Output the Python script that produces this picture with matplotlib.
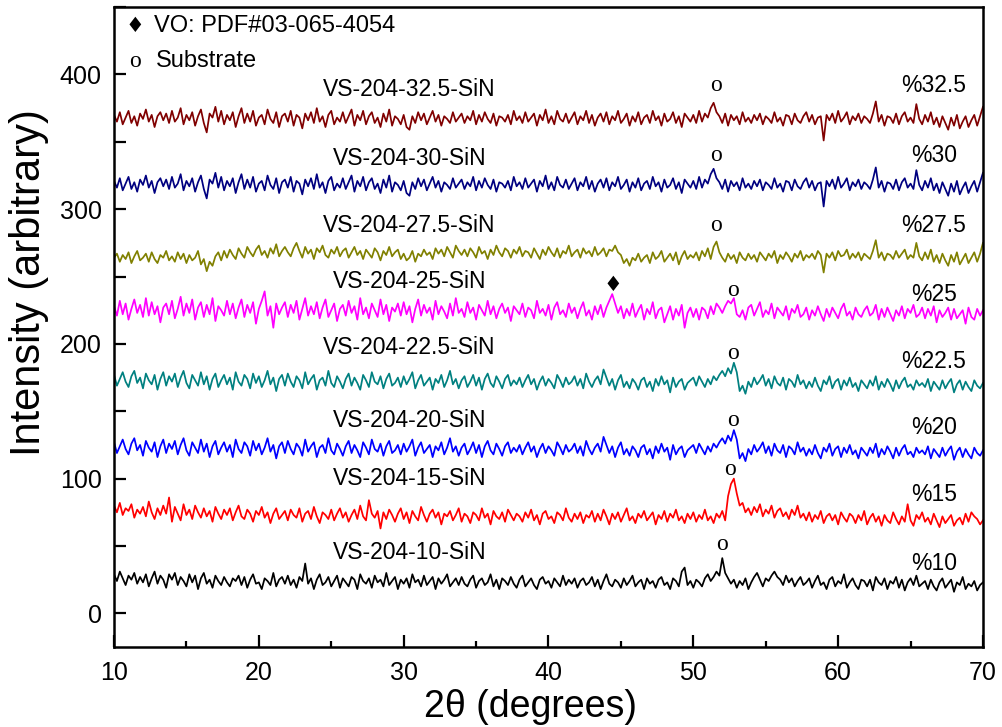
import numpy as np
import matplotlib.pyplot as plt
from matplotlib.ticker import MultipleLocator

plt.rcParams['font.family'] = ['Liberation Sans', 'DejaVu Sans']

# intensity around each curve's own level, 2theta = 10..70 in 0.2 deg steps
dev_30 = [
    3, -2, 5, -4, 1, 6, -3, 2, -5, 4, 0, 7, -2, 3, -6, 2, 5, -1, 4, -3,
    6, -2, 1, 8, -4, 3, -1, 5, -5, 2, 7, -3, -10, 4, 1, 9, -2, 6, -4, 3,
    -1, 5, -6, 2, 8, -3, 4, -2, 6, -5, 1, 3, -4, 7, 0, -3, 5, -6, 2, 4,
    -2, 6, -5, 3, 1, -7, 4, -1, 5, -3, 8, -2, 2, -6, 3, 6, -4, 1, -2, 5,
    -3, 2, 7, -5, 3, -1, 6, -4, 2, 5, -3, 1, -6, 4, -2, 7, -5, 2, 0, -4,
    3, -6, -8, 2, -3, 5, -1, 4, -4, 1, 6, -2, 3, -5, 2, 0, -3, 5, -2, 1,
    4, -3, 2, -1, 6, -4, 3, -2, 5, 0, -3, 4, -5, 2, 1, -2, 3, -4, 6, -1,
    2, -3, 5, -2, 1, 4, -5, 3, -1, 7, -3, 2, -4, 6, 0, -2, 4, -3, 1, 5,
    -4, 2, -1, 6, -3, 3, -5, 1, 4, -2, 5, -4, 2, -1, 6, -3, 0, 4, -5, 2,
    -2, 5, -4, 1, 3, -3, 6, -1, 2, -5, 4, -2, 0, 5, -3, 2, -6, 4, 1, -2,
    3, -3, 6, -2, 4, 1, 8, 12, 5, 2, -3, 4, -5, 3, -1, 2, -4, 5, -2, 1,
    -3, 3, -1, 4, -4, 2, 0, -3, 5, -2, 1, -5, 3, 2, -4, 4, -1, -3, 2, 5,
    -2, 3, -4, 1, 2, -16, 3, -1, 4, -3, 6, -2, 1, 5, -4, 2, -1, 4, -3, 2,
    0, -3, 4, 13, -2, 3, -5, 2, 1, -3, 4, -4, 2, 5, -2, 1, -3, 11, 0, -4,
    3, -2, 5, -4, 1, -6, 2, -3, -8, 1, -5, 3, -7, -2, 2, -6, -1, 3, -5, 2,
    9]

dev_275 = [
    -2, 1, -5, 0, -3, 2, -6, -1, 3, -4, -2, 1, -5, 2, -3, -6, 0, -2, 3, -4,
    -1, -5, 2, -3, 1, -6, 0, -4, -2, 3, -7, -3, -12, -5, -8, -1, 2, -4, 3, -2,
    4, 0, -3, 5, 1, -2, 6, 2, -1, 4, 7, 0, 3, -2, 5, 1, 8, -1, 3, 6,
    2, -1, 5, 9, 3, -2, 6, 1, 4, -3, 5, 2, 7, 0, -2, 4, 1, 6, -1, 3,
    5, -2, 2, 6, 0, 3, -3, 4, 1, -2, 5, 2, -4, 3, 0, 6, -1, 2, 4, -3,
    1, -4, -2, 3, -5, 1, -1, 4, 0, 2, -3, 5, 1, 4, -1, 6, 2, -2, 7, 3,
    0, 4, -1, 5, 2, -2, 6, 1, 3, -3, 4, 0, 7, 2, -1, 5, 3, -2, 4, 1,
    6, -1, 3, 2, -2, 5, 1, -3, 4, 0, 6, 2, -1, 5, -2, 3, 1, 7, -1, 2,
    4, -2, 5, 1, 3, -1, 6, 0, 2, 5, -1, 4, 3, 7, 2, 0, -6, -3, -8, -2,
    -4, 1, -5, -2, 0, -6, 2, -3, -1, 3, -5, -2, 1, -4, 2, -7, -1, 3, -3, 0,
    -2, 2, -4, 3, -1, 5, -3, 6, 10, 2, -2, -5, 1, -3, 0, -6, 2, -2, -4, 1,
    -3, 0, -5, 2, -1, -4, 1, -2, 3, -6, 0, -3, 2, -1, -5, 1, -2, 3, -4, 0,
    -2, 1, -3, 3, 0, -13, 1, -2, 2, -4, 3, -1, 0, 4, -3, 1, -2, 2, -4, 1,
    -1, -3, 3, 11, -2, 2, -4, 1, 0, -3, 3, -2, 1, 4, -3, 0, -2, 9, -1, -4,
    2, -3, 4, -5, 0, -6, 1, -4, -8, 0, -5, 2, -7, -3, 1, -6, -2, 2, -5, 1,
    9]

dev_25 = [
    4, -3, 8, -2, 6, -6, 2, 9, -1, 5, -4, 10, -3, 7, -2, 4, -8, 3, 6, -2,
    8, -5, 2, 11, -3, 6, -1, 9, -6, 3, 7, -4, 5, -2, 10, -7, 4, 1, -3, 8,
    -2, 6, -5, 3, 9, -4, 5, -1, 7, -9, 2, 8, 15, -3, 4, -12, 6, -2, 3, 7,
    -4, 5, -1, 8, -6, 2, 10, -3, 4, -2, 7, -5, 3, 9, -4, 1, 6, -7, 2, 5,
    -3, 8, -1, 4, -6, 10, -2, 3, -5, 6, 1, -4, 9, -2, 5, -7, 3, 0, 6, -3,
    7, -2, 4, -8, 2, 9, -3, 5, -1, 3, -6, 8, -2, 4, 0, -5, 6, -3, 10, -1,
    2, -4, 7, -1, 3, -6, 5, 1, -3, 8, -2, 4, -5, 2, 6, -1, 3, -7, 4, 1,
    -2, 6, -4, 3, 1, -5, 8, -1, 2, -3, 5, -6, 3, 7, -2, 1, -4, 6, -1, 3,
    -5, 2, 7, -3, 1, -6, 4, -2, 5, -4, 3, 8, 13, 6, -1, 4, -5, 2, -3, 6,
    -4, 1, 5, -6, 2, -2, 7, -5, 1, 3, -8, -2, 4, -6, 2, -3, 5, -12, -1, 3,
    -4, 2, -6, 3, 1, -5, 4, -2, 6, 3, -1, 4, 8, 6, 10, -2, -4, 1, -6, 3,
    5, -3, 2, 7, -4, 1, -2, 6, -5, 3, 0, -3, 4, -6, 2, -1, 5, -4, -2, 3,
    -6, 1, -3, 4, -2, -7, 2, -4, 3, -1, -5, 2, 6, -3, 0, -6, 3, -2, -4, 1,
    4, -3, -1, 5, -6, 2, -4, 3, -2, -7, 1, -3, 4, -5, 2, -1, 5, -4, -2, 3,
    -5, 2, -3, 4, -8, 1, -4, -1, 3, -6, 2, -5, -2, 1, -9, 3, -4, -6, 2, -3,
    1]

dev_20 = [
    6, -2, 3, 8, 1, -3, 5, 9, 0, 4, -4, 7, 2, -1, 6, -5, 3, 8, -2, 5,
    1, 7, -3, 4, 9, 0, -4, 6, 2, -2, 8, -1, 5, -5, 3, 7, -3, 2, 6, -1,
    4, -5, 8, 1, -2, 6, 3, -4, 7, 0, 5, -3, 2, 9, -1, 4, -6, 3, 6, -2,
    7, 1, -3, 5, 2, -4, 8, -1, 3, 6, -5, 2, 4, -2, 9, 0, -3, 5, 1, -4,
    3, 7, -2, 4, 0, -5, 6, 2, -3, 8, 1, -1, 5, -4, 3, 7, -2, 0, 4, -3,
    5, -1, 3, 8, -4, 2, 6, -2, 1, 4, -5, 3, 0, 6, -3, 2, 9, -1, 3, -4,
    2, 5, -3, 1, 6, -2, 4, -5, 3, 7, 0, -3, 5, 1, -4, 3, 6, -2, 2, -1,
    4, -3, 2, 6, -1, 3, -5, 1, 5, -2, 3, 0, -4, 6, 2, -3, 4, -1, 1, 5,
    -2, 3, -4, 7, 1, -3, 2, 5, -1, 10, 4, -2, 3, -5, 2, 6, -3, 1, -4, 3,
    0, -5, 2, 4, -3, 1, -6, 3, -2, 5, -1, 2, -7, 4, -3, 1, 3, -5, 0, 2,
    4, -2, 5, 1, -3, 3, -1, 5, 2, 6, 9, 5, 11, 7, 15, 8, -6, -2, -8, 1,
    -3, 4, -1, 2, 6, -2, 3, -4, 5, 0, -2, 4, -5, 3, 1, -3, 6, -1, 2, -4,
    1, -3, 4, -2, -6, 2, -1, 5, -4, 1, 3, -5, 2, -2, 4, -3, 0, -6, 2, -1,
    -4, 2, -2, 5, -5, 1, -3, 3, -1, -6, 2, -4, 1, 4, -3, -1, -5, 2, -2, 0,
    -3, 3, -6, 1, -2, -5, 2, -4, 0, 3, -7, -1, 2, -5, 1, -3, -6, 2, -2, -4,
    0]

dev_15 = [
    8, 3, 10, 1, 6, 4, 9, -1, 5, 2, 7, 0, 11, 3, -2, 6, 1, 8, 2, 14,
    -4, 7, 2, -3, 9, 1, 5, -2, 8, 3, -1, 6, 0, 4, -4, 7, 2, -2, 5, 1,
    6, -3, 3, 8, 0, -2, 5, 2, -4, 4, 1, 7, -1, 3, -5, 2, 6, -2, 1, 4,
    -3, 5, 1, -1, 6, -4, 2, 4, -2, 7, 0, -5, 3, 1, -2, 5, -3, 2, 6, -1,
    3, -4, 1, 5, -2, 8, 0, -3, 12, 2, -1, 4, -9, 3, -2, 5, 1, -4, 2, 6,
    -2, 3, -5, 4, 0, -3, 7, 1, -4, 2, 5, -1, 3, -6, 2, 0, 4, -3, 1, 6,
    -4, 2, 0, -5, 3, 1, -3, 6, -1, 2, -6, 4, 0, -2, 3, -4, 5, 1, -3, 2,
    0, -4, 3, -1, 5, -3, 1, -6, 2, 4, -2, 0, -5, 3, 1, -3, 6, -1, -4, 2,
    -2, 3, -5, 1, -1, 4, -4, 2, -3, 5, 0, -6, 2, -2, 3, -4, 1, 6, -3, 0,
    -5, 2, -1, 4, -3, 0, 3, -6, 1, -2, 4, -4, 2, -1, 5, -3, 0, -5, 2, -2,
    3, -4, 1, -2, 5, -3, 0, -5, 2, -1, 4, -3, 15, 24, 28, 17, 8, 10, 3, 6,
    1, 7, 3, 9, 0, 5, 2, 8, -1, 4, 6, 0, 3, -2, 5, 1, 8, -1, 2, -3,
    3, -4, 1, -2, 4, -5, 0, 2, -3, 1, -6, 3, -1, -4, 2, 0, -5, 1, -3, 4,
    -6, -1, 2, -4, 0, -7, 1, -3, -5, 3, -2, -6, 0, -4, 9, -3, -7, 1, -2, 3,
    -4, -1, -6, 2, -3, -8, 0, -5, -2, 1, -7, -3, -1, -6, 2, -4, 3, 0, -2, -6,
    -3]

dev_10 = [
    6, 1, 8, 3, -2, 5, 2, 7, -1, 4, 0, 6, -3, 3, 8, -1, 5, 2, -4, 6,
    2, 7, -2, 4, 1, -3, 6, 0, 5, -5, 3, 7, -1, 2, -4, 5, 1, -2, 4, 0,
    -3, 3, 1, 5, -2, 4, -4, 2, 6, -1, 0, -5, 3, 1, -2, 7, -3, 2, 4, -1,
    5, -2, 2, -4, 4, 1, 14, -1, 3, -5, 2, 6, -2, 0, 4, -3, 1, 5, -4, 3,
    0, -3, 4, 2, -5, 6, 1, -1, 3, -4, 5, 0, 2, -3, 7, -2, 1, 4, -5, 2,
    -1, 3, -4, 6, 0, 2, -3, 5, -2, 1, 4, -5, 3, -1, 2, 6, -3, 0, 3, -2,
    4, -1, -3, 2, 5, -4, 1, 3, -2, 0, 6, -3, 2, -5, 3, 1, -2, 4, -1, -4,
    2, 5, -3, 0, 3, -2, -5, 2, 4, -1, 1, -4, 3, 0, -3, 5, -2, 2, -1, 3,
    -4, 1, 3, -2, 0, 4, -3, 2, -5, 1, 6, -1, -3, 2, 0, -4, 3, -2, 1, 5,
    -3, 0, 2, -5, 3, -1, 1, -4, 2, 4, -2, 0, -5, 3, 1, -3, 8, 11, -2, 1,
    -4, 2, 0, -3, 3, 6, 1, 4, 8, 5, 18, 7, 3, -1, 2, -4, 1, -2, 3, -5,
    0, 4, 7, 2, -3, 3, 1, 5, 8, 4, 2, -2, 5, 0, 3, -3, 1, 4, -2, 0,
    3, -4, 1, 5, -2, 0, -5, 2, 4, -3, 1, -1, 6, -4, 0, 3, -2, -5, 2, 1,
    -3, 2, -6, 4, 0, -2, 3, -5, 1, -1, 4, -4, 2, -6, 0, 3, -2, 5, -3, -1,
    1, -5, 2, -3, -6, 0, 3, -4, -1, 2, -7, 0, -2, 4, -5, -1, -3, 1, -6, -2,
    0]

samples = ['VS-204-10-SiN', 'VS-204-15-SiN', 'VS-204-20-SiN', 'VS-204-22.5-SiN',
           'VS-204-25-SiN', 'VS-204-27.5-SiN', 'VS-204-30-SiN', 'VS-204-32.5-SiN']
percents = ['%10', '%15', '%20', '%22.5', '%25', '%27.5', '%30', '%32.5']
levels = [23, 72, 121, 171, 224, 266, 318, 367]
shapes = [dev_10, dev_15, dev_20, dev_20, dev_25, dev_275, dev_30, dev_30]
colors = ['#000000', '#ff0000', '#0000ff', '#008080',
          '#ff00ff', '#808000', '#000080', '#800000']

name_y = [45, 100, 143, 197, 246, 288, 338, 389]
pct_y = [37, 88, 138, 187, 237, 288, 340, 392]
sub_x = [52.0, 52.5, 52.75, 52.75, 52.75, 51.6, 51.6, 51.6]
sub_y = [51, 107, 143, 193, 240, 288, 340, 392]
vo_x, vo_y = 44.46, 244

fig = plt.figure(figsize=(10.02, 7.27), dpi=100)
ax = fig.add_axes([0.1138, 0.110, 0.8672, 0.8802])

for i in range(len(samples)):
    y = levels[i] + np.array(shapes[i])
    x = np.linspace(10, 70, len(y))
    ax.plot(x, y, color=colors[i], lw=1.25)
    ax.text(30.4, name_y[i], samples[i], fontsize=16.5, ha='center', va='center')
    ax.text(66.6, pct_y[i], percents[i], fontsize=16.5, ha='center', va='center')
    ax.text(sub_x[i], sub_y[i], 'o', family='Liberation Serif', fontsize=17,
            ha='center', va='center')

ax.text(vo_x, vo_y, '\u2666', family='DejaVu Sans', fontsize=15, ha='center', va='center')

# key in the upper left corner
ax.text(11.45, 436, '\u2666', family='DejaVu Sans', fontsize=15, ha='center', va='center')
ax.text(12.76, 436, 'VO: PDF#03-065-4054', fontsize=17, ha='left', va='center')
ax.text(11.45, 410, 'o', family='Liberation Serif', fontsize=17, ha='center', va='center')
ax.text(12.9, 410, 'Substrate', fontsize=17, ha='left', va='center')

ax.set_xlim(10, 70)
ax.set_ylim(-25, 450)
ax.xaxis.set_major_locator(MultipleLocator(10))
ax.xaxis.set_minor_locator(MultipleLocator(5))
ax.yaxis.set_major_locator(MultipleLocator(100))
ax.yaxis.set_minor_locator(MultipleLocator(50))
ax.tick_params(which='both', direction='in', top=False, right=False,
               labelsize=18, width=1.6)
ax.tick_params(axis='x', which='major', length=8.5, pad=10)
ax.tick_params(axis='x', which='minor', length=4.5)
ax.tick_params(axis='y', which='both', length=8.5, pad=9)
for s in ax.spines.values():
    s.set_linewidth(1.8)

# axis titles placed by their centres
ax.text(0.479, -0.093, '2\u03b8 (degrees)', fontsize=27, transform=ax.transAxes,
        ha='center', va='center')
ax.text(-0.098, 0.569, 'Intensity (arbitrary)', fontsize=30, transform=ax.transAxes,
        rotation=90, ha='center', va='center')

fig.savefig('out.png', dpi=100)
